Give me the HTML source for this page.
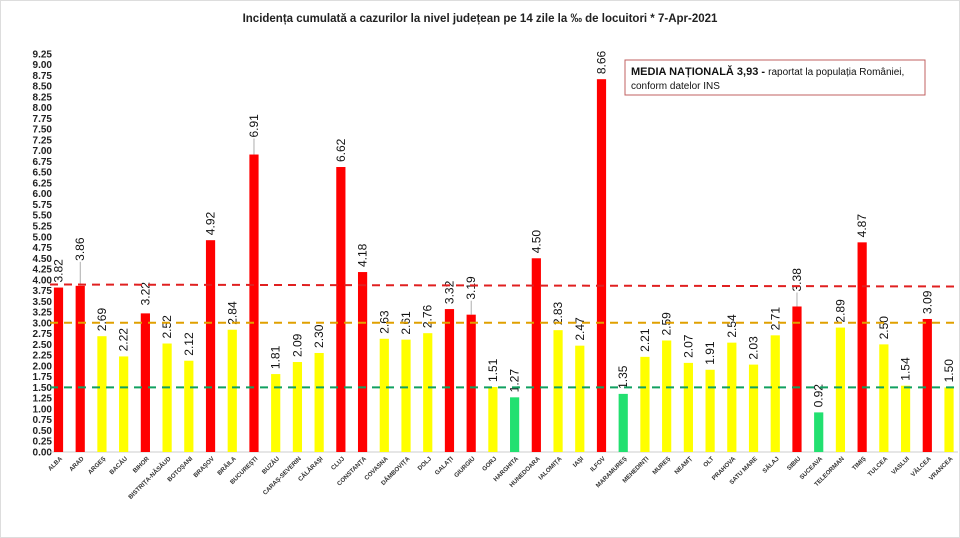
<!DOCTYPE html>
<html><head><meta charset="utf-8"><style>
html,body{margin:0;padding:0;background:#fff;width:960px;height:538px;overflow:hidden}
svg{display:block}
</style></head><body>
<svg id="c" width="960" height="538" xmlns="http://www.w3.org/2000/svg" font-family="Liberation Sans, sans-serif">
<rect x="0.5" y="0.5" width="959" height="537" fill="#fff" stroke="#ddd"/>
<text x="480" y="22" text-anchor="middle" font-size="11.5" font-weight="bold" fill="#222">Incidența cumulată a cazurilor la nivel județean pe 14 zile la ‰ de locuitori *   7-Apr-2021</text>
<g id="g"></g>
<rect x="625" y="60" width="300" height="35" fill="#fff" stroke="#c06060" stroke-width="1"/>
<text x="631" y="75" font-size="11" fill="#111"><tspan font-weight="bold">MEDIA NAȚIONALĂ  3,93 - </tspan><tspan font-size="10">raportat la populația României,</tspan></text>
<text x="631" y="89" font-size="10" fill="#111">conform datelor INS</text>
</svg>
<script>
var d=[["ALBA",3.82,"r"],["ARAD",3.86,"r"],["ARGEȘ",2.69,"y"],["BACĂU",2.22,"y"],["BIHOR",3.22,"r"],["BISTRIȚA-NĂSĂUD",2.52,"y"],["BOTOȘANI",2.12,"y"],["BRAȘOV",4.92,"r"],["BRĂILA",2.84,"y"],["BUCUREȘTI",6.91,"r"],["BUZĂU",1.81,"y"],["CARAȘ-SEVERIN",2.09,"y"],["CĂLĂRAȘI",2.30,"y"],["CLUJ",6.62,"r"],["CONSTANȚA",4.18,"r"],["COVASNA",2.63,"y"],["DÂMBOVIȚA",2.61,"y"],["DOLJ",2.76,"y"],["GALAȚI",3.32,"r"],["GIURGIU",3.19,"r"],["GORJ",1.51,"y"],["HARGHITA",1.27,"g"],["HUNEDOARA",4.50,"r"],["IALOMIȚA",2.83,"y"],["IAȘI",2.47,"y"],["ILFOV",8.66,"r"],["MARAMUREȘ",1.35,"g"],["MEHEDINȚI",2.21,"y"],["MUREȘ",2.59,"y"],["NEAMȚ",2.07,"y"],["OLT",1.91,"y"],["PRAHOVA",2.54,"y"],["SATU MARE",2.03,"y"],["SĂLAJ",2.71,"y"],["SIBIU",3.38,"r"],["SUCEAVA",0.92,"g"],["TELEORMAN",2.89,"y"],["TIMIȘ",4.87,"r"],["TULCEA",2.50,"y"],["VASLUI",1.54,"y"],["VÂLCEA",3.09,"r"],["VRANCEA",1.50,"y"]];
var col={r:"#ff0000",y:"#ffff00",g:"#22e070"};
var extra={1:20,9:12,19:10,34:10,4:3};
var y0=452,k=43.05,s="";
function Y(v){return y0-v*k}
for(var v=0;v<=9.251;v+=0.25){s+='<text x="52" y="'+(Y(v)+3.5).toFixed(1)+'" text-anchor="end" font-size="10" font-weight="bold" fill="#222">'+v.toFixed(2)+'</text>';}
s+='<line x1="50" y1="452" x2="958" y2="452" stroke="#ccc"/>';
d.forEach(function(e,i){
 var cx=58.5+i*21.72,t=Y(e[1]);
 s+='<rect x="'+(cx-4.6)+'" y="'+t+'" width="9.2" height="'+(y0-t)+'" fill="'+col[e[2]]+'"/>';
 var ex=extra[i]||0,b=t-5-ex;
 if(ex>3)s+='<line x1="'+cx+'" y1="'+t+'" x2="'+cx+'" y2="'+(b+1)+'" stroke="#999" stroke-width="0.8"/>';
 s+='<text transform="translate('+(cx+4)+','+b+') rotate(-90)" font-size="12" fill="#111">'+e[1].toFixed(2)+'</text>';
 s+='<text transform="translate('+(cx+4)+',459) rotate(-45)" text-anchor="end" font-size="6.2" font-weight="bold" fill="#333">'+e[0]+'</text>';
});
s+='<line x1="50" y1="284.5" x2="958" y2="286.5" stroke="#e02020" stroke-width="2" stroke-dasharray="8,6"/>';
s+='<line x1="50" y1="322.7" x2="958" y2="322.7" stroke="#e0a000" stroke-width="2" stroke-dasharray="8,6"/>';
s+='<line x1="50" y1="387.4" x2="958" y2="387.4" stroke="#10a060" stroke-width="2" stroke-dasharray="8,6"/>';
document.getElementById("g").innerHTML=s;
</script>
</body></html>
